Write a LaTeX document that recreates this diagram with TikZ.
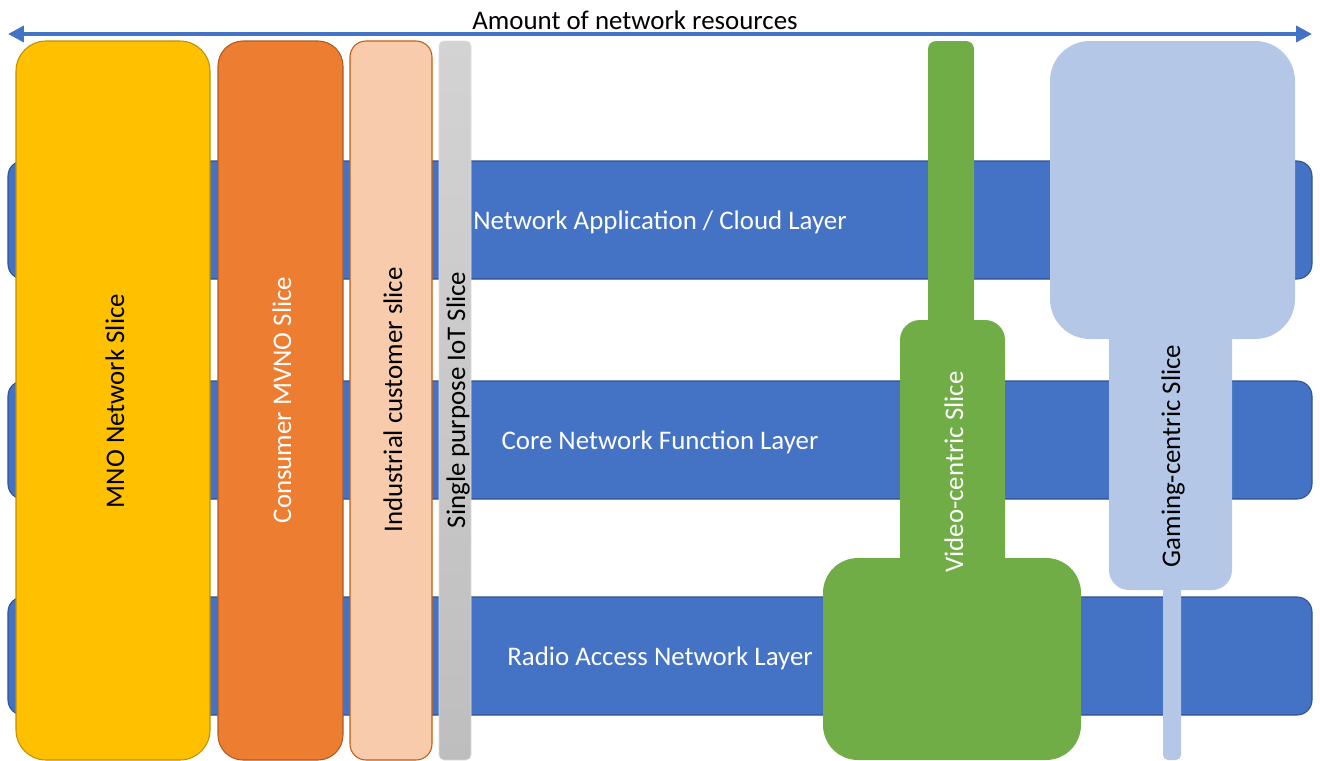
\documentclass[tikz,border=0pt]{standalone}
\usepackage{fontspec}
\setmainfont{Carlito}
\usetikzlibrary{arrows.meta}
\definecolor{layerblue}{HTML}{4472C4}
\definecolor{layeredge}{HTML}{2F528F}
\definecolor{mnofill}{HTML}{FFC000}
\definecolor{mnoedge}{HTML}{BF9000}
\definecolor{mvnofill}{HTML}{ED7D31}
\definecolor{mvnoedge}{HTML}{AE5A21}
\definecolor{indfill}{HTML}{F8CBAD}
\definecolor{indedge}{HTML}{C55A11}
\definecolor{iottop}{HTML}{D3D3D3}
\definecolor{iotbot}{HTML}{BEBEBE}
\definecolor{videofill}{HTML}{70AD47}
\definecolor{gamefill}{HTML}{B4C7E7}

\begin{document}
\begin{tikzpicture}[x=0.02cm,y=-0.02cm,
  lbl/.style={font=\fontsize{15.3}{18}\selectfont},
  layerbox/.style={fill=layerblue,draw=layeredge,line width=0.6pt,rounded corners=0.3cm},
  vlbl/.style={lbl,rotate=90}]
  \useasboundingbox (0,0) rectangle (1320,761);
  % resource axis
  \coordinate (axL) at (8,34); \coordinate (axR) at (1312,34);
  \draw[layerblue,line width=2.2pt,{Triangle[length=9pt,width=9pt]}-{Triangle[length=9pt,width=9pt]}] (axL) -- (axR);
  \node[lbl] (axis) at (635,20) {Amount of network resources};
  % layers
  \draw[layerbox] (8,161) rectangle (1312,279);
  \draw[layerbox] (8,381) rectangle (1312,499);
  \draw[layerbox] (8,597) rectangle (1312,715);
  \node[lbl,text=white] (cloud) at (660,222) {Network Application / Cloud Layer};
  \node[lbl,text=white] (core) at (660,442) {Core Network Function Layer};
  \node[lbl,text=white] (ran) at (660,658) {Radio Access Network Layer};
  % slices
  \draw[fill=mnofill,draw=mnoedge,line width=0.6pt,rounded corners=0.6cm] (16,41) rectangle (210,760);
  \draw[fill=mvnofill,draw=mvnoedge,line width=0.6pt,rounded corners=0.5cm] (218,41) rectangle (343,760);
  \draw[fill=indfill,draw=indedge,line width=0.6pt,rounded corners=0.32cm] (350,41) rectangle (432,760);
  \shade[top color=iottop,bottom color=iotbot,rounded corners=0.1cm] (439,41) rectangle (471,760);
  \draw[iottop!80!black!40,line width=0.4pt,rounded corners=0.1cm] (439,41) rectangle (471,760);
  \node[vlbl] (mno) at (115,401) {MNO Network Slice};
  \node[vlbl,text=white] (mvno) at (282,400) {Consumer MVNO Slice};
  \node[vlbl] (ind) at (393,400) {Industrial customer slice};
  \node[vlbl] (iot) at (458,400) {Single purpose IoT Slice};
  % video-centric slice
  \fill[videofill,rounded corners=0.16cm] (928,41) rectangle (974,340);
  \fill[videofill,rounded corners=0.4cm] (900,320) rectangle (1005,600);
  \fill[videofill,rounded corners=0.7cm] (823,558) rectangle (1081,760);
  \node[vlbl,text=white] (video) at (954,472) {Video-centric Slice};
  % gaming-centric slice
  \fill[gamefill,rounded corners=0.1cm] (1163,560) rectangle (1181,760);
  \fill[gamefill,rounded corners=0.4cm] (1109,300) rectangle (1232,590);
  \fill[gamefill,rounded corners=0.8cm] (1050,41) rectangle (1295,339);
  \node[vlbl] (game) at (1173,456) {Gaming-centric Slice};
\end{tikzpicture}
\end{document}
